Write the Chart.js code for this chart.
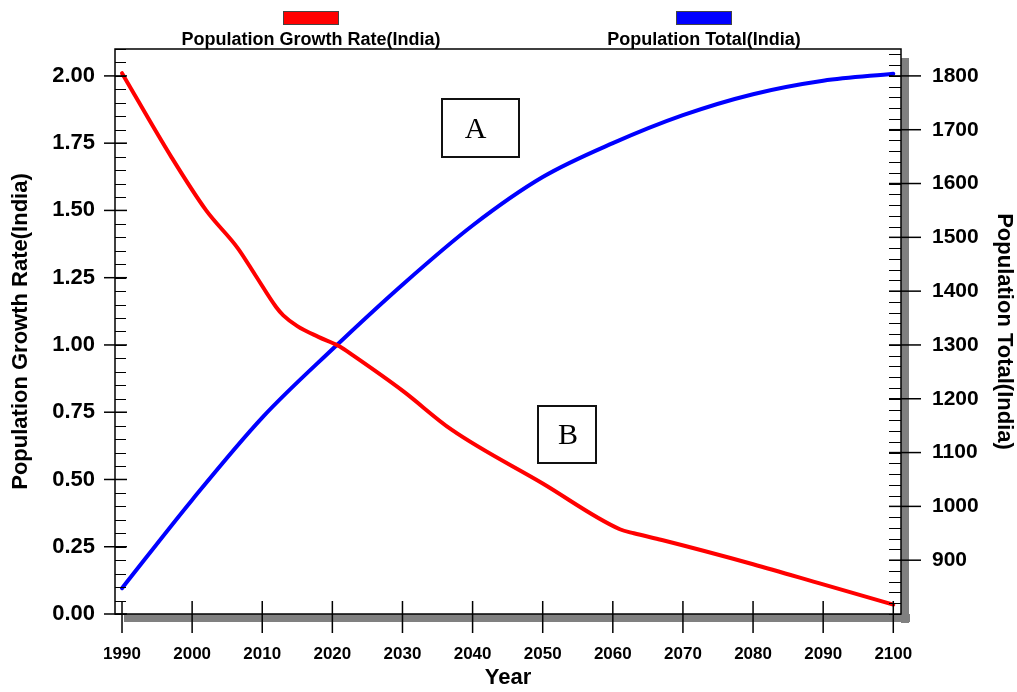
<!DOCTYPE html>
<html lang="en">
<head>
<meta charset="UTF-8">
<title>India population</title>
<script src="https://cdn.jsdelivr.net/npm/chart.js"></script>
<style>
  html, body { margin: 0; padding: 0; background: #ffffff; }
  #wrap { width: 1017px; height: 692px; position: relative; }
</style>
</head>
<body>
<div id="wrap"><canvas id="chart"></canvas></div>
<script>
// growth rate (%)
const rateYears  = [1990, 1997, 2002, 2006.5, 2009, 2012, 2013, 2015, 2018, 2021, 2023, 2030, 2037, 2050, 2061, 2063, 2067, 2080, 2090, 2100];
const rateValues = [2.01, 1.70, 1.50, 1.36, 1.26, 1.14, 1.11, 1.07, 1.03, 0.995, 0.96, 0.83, 0.685, 0.485, 0.315, 0.30, 0.275, 0.185, 0.11, 0.035];

// total population (millions)
const totalYears  = [1990, 2000, 2010, 2020, 2030, 2040, 2050, 2060, 2070, 2080, 2090, 2100];
const totalValues = [848, 1012, 1165, 1292, 1412, 1522, 1612, 1675, 1727, 1766, 1791, 1804];

const yearTicks  = [1990, 2000, 2010, 2020, 2030, 2040, 2050, 2060, 2070, 2080, 2090, 2100];
const rateTicks  = [0, 0.25, 0.5, 0.75, 1.0, 1.25, 1.5, 1.75, 2.0];
const totalTicks = [900, 1000, 1100, 1200, 1300, 1400, 1500, 1600, 1700, 1800];

const seriesNames = ['Population Growth Rate(India)', 'Population Total(India)'];
const FONT = '"Liberation Sans", Arial, sans-serif';

function toPoints(xs, ys) { return xs.map((x, i) => ({ x: x, y: ys[i] })); }

// gray drop shadow + black frame around the plot
const framePlugin = {
  id: 'frame',
  beforeDatasetsDraw(chart) {
    const { ctx, chartArea: a } = chart;
    ctx.save();
    ctx.fillStyle = '#808080';
    ctx.fillRect(a.right, a.top + 9, 8, a.bottom - a.top);
    ctx.fillRect(a.left + 9, a.bottom, a.right - a.left, 8);
    ctx.strokeStyle = '#000';
    ctx.lineWidth = 1.5;
    ctx.strokeRect(a.left, a.top, a.right - a.left, a.bottom - a.top);
    ctx.restore();
  },
  afterDraw(chart) {
    const { ctx, chartArea: a, scales } = chart;
    ctx.save();
    ctx.strokeStyle = '#000';
    // left axis: minor every 0.05 inside, major crossing
    const yl = scales.yRate;
    ctx.lineWidth = 1;
    for (let v = 0; v <= yl.max + 1e-9; v += 0.05) {
      const y = Math.round(yl.getPixelForValue(v)) + 0.5;
      ctx.beginPath(); ctx.moveTo(a.left, y); ctx.lineTo(a.left + 11, y); ctx.stroke();
    }
    ctx.lineWidth = 1.5;
    rateTicks.forEach(v => {
      const y = yl.getPixelForValue(v);
      ctx.beginPath(); ctx.moveTo(a.left - 11, y); ctx.lineTo(a.left + 12, y); ctx.stroke();
    });
    // right axis: minor every 20 inside, major crossing
    const yr = scales.yTotal;
    ctx.lineWidth = 1;
    for (let v = yr.min; v <= yr.max + 1e-9; v += 20) {
      const y = Math.round(yr.getPixelForValue(v)) + 0.5;
      ctx.beginPath(); ctx.moveTo(a.right - 12, y); ctx.lineTo(a.right, y); ctx.stroke();
    }
    ctx.lineWidth = 1.5;
    totalTicks.forEach(v => {
      const y = yr.getPixelForValue(v);
      ctx.beginPath(); ctx.moveTo(a.right - 12, y); ctx.lineTo(a.right + 20, y); ctx.stroke();
    });
    // x axis
    const xs = scales.x;
    yearTicks.forEach(v => {
      const x = xs.getPixelForValue(v);
      ctx.beginPath(); ctx.moveTo(x, a.bottom - 13); ctx.lineTo(x, a.bottom + 19); ctx.stroke();
    });

    // legend: colour bar above its label
    const centers = [311, 704];
    chart.data.datasets.forEach((ds, i) => {
      ctx.fillStyle = ds.borderColor;
      ctx.fillRect(centers[i] - 28, 11, 56, 14);
      ctx.lineWidth = 1;
      ctx.strokeStyle = '#444';
      ctx.strokeRect(centers[i] - 28 + 0.5, 11.5, 55, 13);
      ctx.fillStyle = '#000';
      ctx.font = 'bold 18px ' + FONT;
      ctx.textAlign = 'center';
      ctx.textBaseline = 'alphabetic';
      ctx.fillText(ds.label, centers[i], 45);
    });

    // boxed labels A and B
    const boxes = [
      { t: 'A', x: 442, y: 99, w: 77, h: 58, dx: -5 },
      { t: 'B', x: 538, y: 406, w: 58, h: 57, dx: 1 }
    ];
    boxes.forEach(b => {
      ctx.fillStyle = '#fff';
      ctx.fillRect(b.x, b.y, b.w, b.h);
      ctx.lineWidth = 2;
      ctx.strokeStyle = '#111';
      ctx.strokeRect(b.x, b.y, b.w, b.h);
      ctx.fillStyle = '#000';
      ctx.font = '30px "Liberation Serif", "Times New Roman", serif';
      ctx.textAlign = 'center';
      ctx.textBaseline = 'middle';
      ctx.fillText(b.t, b.x + b.w / 2 + b.dx, b.y + b.h / 2 + 2);
    });
    ctx.restore();
  }
};

new Chart(document.getElementById('chart'), {
  type: 'line',
  data: {
    datasets: [{
      label: seriesNames[0],
      data: toPoints(rateYears, rateValues),
      yAxisID: 'yRate',
      borderColor: '#ff0000',
      borderWidth: 4,
      pointRadius: 0,
      cubicInterpolationMode: 'monotone',
      borderCapStyle: 'round'
    }, {
      label: seriesNames[1],
      data: toPoints(totalYears, totalValues),
      yAxisID: 'yTotal',
      borderColor: '#0000ff',
      borderWidth: 4,
      pointRadius: 0,
      cubicInterpolationMode: 'monotone',
      borderCapStyle: 'round'
    }]
  },
  options: {
    responsive: true,
    maintainAspectRatio: false,
    animation: false,
    layout: { padding: { top: 49 } },
    plugins: { legend: { display: false }, tooltip: { enabled: false } },
    scales: {
      x: {
        type: 'linear',
        min: 1989,
        max: 2101.1,
        grid: { display: false, drawTicks: false },
        border: { display: false },
        afterBuildTicks: s => { s.ticks = yearTicks.map(v => ({ value: v })); },
        afterFit: s => { s.height = 78; },
        ticks: { padding: 30, color: '#000', font: { family: FONT, size: 17, weight: 'bold' }, callback: v => String(v) },
        title: { display: true, text: 'Year', color: '#000', padding: { top: 0, bottom: 1 }, font: { family: FONT, size: 22, weight: 'bold' } }
      },
      yRate: {
        position: 'left',
        min: 0,
        max: 2.1,
        grid: { display: false, drawTicks: false },
        border: { display: false },
        afterBuildTicks: s => { s.ticks = rateTicks.map(v => ({ value: v })); },
        afterFit: s => { s.width = 115; },
        ticks: { padding: 20, color: '#000', font: { family: FONT, size: 22, weight: 'bold' }, callback: v => Number(v).toFixed(2) },
        title: { display: true, text: seriesNames[0], color: '#000', padding: { top: 8, bottom: 0 }, font: { family: FONT, size: 22, weight: 'bold' } }
      },
      yTotal: {
        position: 'right',
        min: 800,
        max: 1850,
        grid: { display: false, drawTicks: false },
        border: { display: false },
        afterBuildTicks: s => { s.ticks = totalTicks.map(v => ({ value: v })); },
        afterFit: s => { s.width = 116; },
        ticks: { padding: 31, color: '#000', font: { family: FONT, size: 21, weight: 'bold' }, callback: v => String(v) },
        title: { display: true, text: seriesNames[1], color: '#000', padding: { top: 0, bottom: 0 }, font: { family: FONT, size: 22, weight: 'bold' } }
      }
    }
  },
  plugins: [framePlugin]
});
</script>
</body>
</html>
